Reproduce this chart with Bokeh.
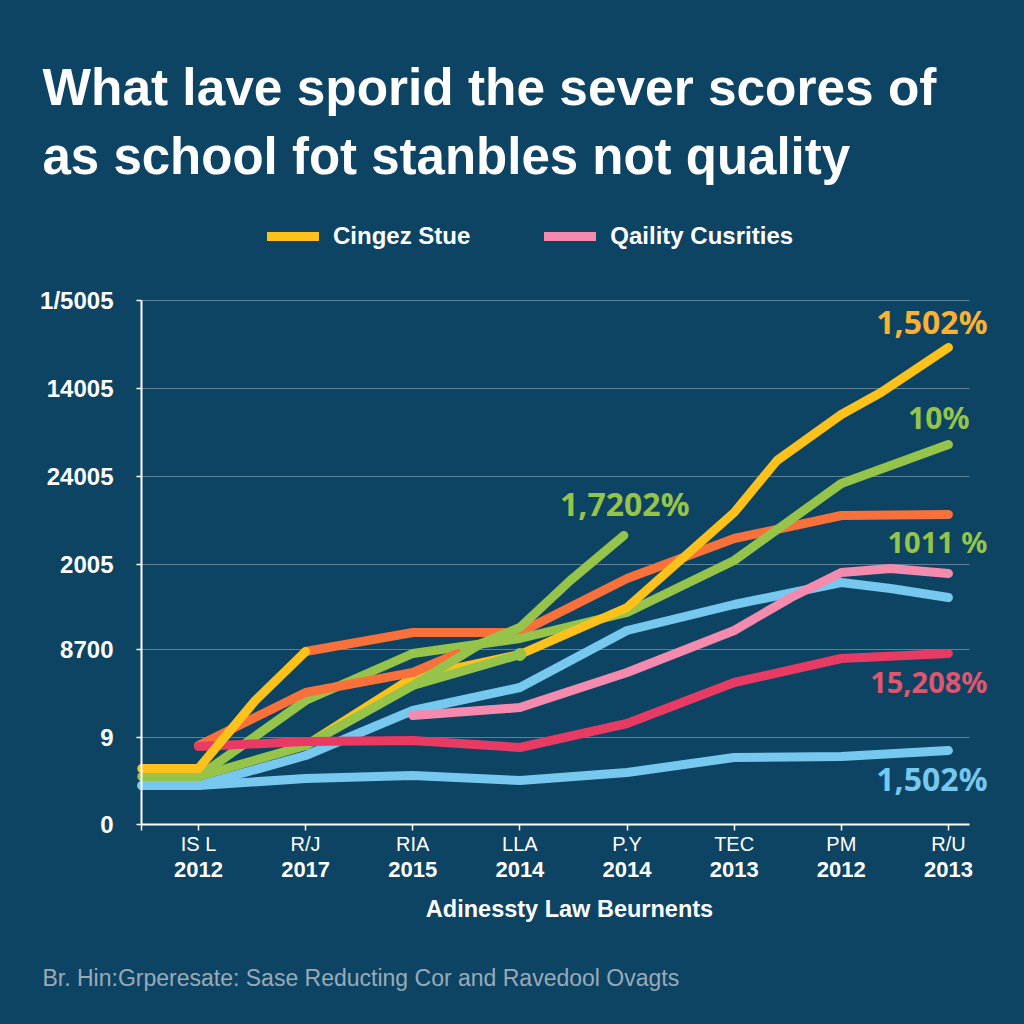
from bokeh.plotting import figure
from bokeh.embed import file_html
from bokeh.resources import INLINE
from bokeh.models import Label, Legend, LegendItem, LinearAxis, FixedTicker

BG = "#0e4463"
title_lines = ["What lave sporid the sever scores of", "as school fot stanbles not quality"]
legend_names = ["Cingez Stue", "Qaility Cusrities"]
x_codes = ["IS L", "R/J", "RIA", "LLA", "P.Y", "TEC", "PM", "R/U"]
x_years = ["2012", "2017", "2015", "2014", "2014", "2013", "2012", "2013"]
y_ticks = [0, 87, 175, 260, 348, 436, 524]
y_labels = ["0", "9", "8700", "2005", "24005", "14005", "1/5005"]
x_name = "Adinessty Law Beurnents"
footer = "Br. Hin:Grperesate: Sase Reducting Cor and Ravedool Ovagts"

yellow1_x = [-0.53, 0, 0.53, 1]
yellow1_y = [56, 56, 124, 173]
yellow2_x = [1, 2, 3, 4, 5, 5.4, 6, 6.37, 7]
yellow2_y = [79, 147, 170, 217, 312, 364, 410, 432, 477]
orange1_x = [1, 2, 3, 4, 5, 6, 7]
orange1_y = [173, 192, 192, 246, 286, 309, 310]
orange2_x = [0, 1, 2, 2.42]
orange2_y = [79, 132, 152, 171]
green1_x = [0, 1, 2, 3, 4, 5, 6, 7]
green1_y = [48, 124, 171, 186, 212, 264, 341, 380]
green2_x = [-0.53, 0, 1, 2, 3]
green2_y = [48, 48, 79, 139, 170]
green3_x = [2, 2.64, 3, 3.47, 3.97]
green3_y = [139, 181, 197, 244, 289]
blue1_x = [-0.53, 0, 1, 2, 3, 4, 5, 6, 6.46, 7]
blue1_y = [39, 39, 69, 114, 137, 194, 220, 242, 236, 227]
blue2_x = [-0.53, 0, 1, 2, 3, 4, 5, 6, 7]
blue2_y = [39, 39, 46, 49, 44, 52, 67, 68, 74]
pink_x = [2, 3, 4, 5, 5.53, 6, 6.46, 7]
pink_y = [109, 117, 152, 194, 227, 252, 256, 251]
red_x = [0, 1, 2, 3, 4, 5, 6, 7]
red_y = [78, 83, 84, 77, 101, 142, 166, 171]

YELLOW, ORANGE, GREEN, BLUE, PINK, RED = "#fcc21b", "#f8703a", "#96c44a", "#76c8ee", "#f48aad", "#e93a63"
X0, X1 = -0.532, 7.196

p = figure(width=1024, height=1024, output_backend="svg", toolbar_location=None,
           x_range=(-1.848, 7.710), y_range=(-200, 824),
           min_border_left=0, min_border_right=0, min_border_top=0, min_border_bottom=0,
           background_fill_color=BG, border_fill_color=BG, outline_line_color=None,
           x_axis_type=None, y_axis_type=None)

p.segment([X0] * 6, y_ticks[1:], [X1] * 6, y_ticks[1:], line_color="#5d8199", line_width=1)

yaxis = LinearAxis(ticker=FixedTicker(ticks=y_ticks), fixed_location=X0, bounds=(0, 524),
                   major_label_overrides={t: s for t, s in zip(y_ticks, y_labels)})
yaxis.axis_line_color = "white"; yaxis.axis_line_width = 2
yaxis.major_tick_line_color = "white"; yaxis.major_tick_line_width = 1.5
yaxis.major_tick_out = 5; yaxis.major_tick_in = 0
yaxis.minor_tick_line_color = None
yaxis.major_label_standoff = 23
yaxis.major_label_text_color = "white"
yaxis.major_label_text_font = "Liberation Sans"
yaxis.major_label_text_font_style = "bold"
yaxis.major_label_text_font_size = "24px"
p.add_layout(yaxis, "left")

x_ticks = list(range(8))
xaxis = LinearAxis(ticker=FixedTicker(ticks=[X0] + x_ticks), fixed_location=0, bounds=(X0, X1),
                   major_label_overrides={**{X0: ""}, **{t: s for t, s in zip(x_ticks, x_codes)}})
xaxis.axis_line_color = "white"; xaxis.axis_line_width = 2
xaxis.major_tick_line_color = "white"; xaxis.major_tick_line_width = 1.5
xaxis.major_tick_out = 6; xaxis.major_tick_in = 0
xaxis.minor_tick_line_color = None
xaxis.major_label_standoff = 2
xaxis.major_label_text_color = "white"
xaxis.major_label_text_font = "Liberation Sans"
xaxis.major_label_text_font_size = "20px"
p.add_layout(xaxis, "below")

xaxis2 = LinearAxis(ticker=FixedTicker(ticks=x_ticks), fixed_location=0, bounds=(X0, X1),
                    major_label_overrides={t: s for t, s in zip(x_ticks, x_years)})
xaxis2.axis_line_color = None
xaxis2.major_tick_line_color = None
xaxis2.minor_tick_line_color = None
xaxis2.major_tick_out = 0
xaxis2.major_label_standoff = 37
xaxis2.major_label_text_color = "white"
xaxis2.major_label_text_font = "Liberation Sans"
xaxis2.major_label_text_font_style = "bold"
xaxis2.major_label_text_font_size = "22px"
p.add_layout(xaxis2, "below")

def ln(x, y, c):
    return p.line(x, y, line_color=c, line_width=9, line_cap="round", line_join="round")

ln(blue2_x, blue2_y, BLUE)
ln(blue1_x, blue1_y, BLUE)
r_pink = ln(pink_x, pink_y, PINK)
ln(orange1_x, orange1_y, ORANGE)
ln(green1_x, green1_y, GREEN)
ln(yellow2_x, yellow2_y, YELLOW)
ln(orange2_x, orange2_y, ORANGE)
ln(green3_x, green3_y, GREEN)
ln(green2_x, green2_y, GREEN)
p.scatter(green2_x[-1:], green2_y[-1:], size=12, color=GREEN)
ln(red_x, red_y, RED)
r_yellow = ln(yellow1_x, yellow1_y, YELLOW)

legend = Legend(items=[LegendItem(label=legend_names[0], renderers=[r_yellow]),
                       LegendItem(label=legend_names[1], renderers=[r_pink])],
                orientation="horizontal", location=(267, 774),
                background_fill_alpha=0, border_line_alpha=0, margin=0, padding=0,
                glyph_width=52, glyph_height=22, label_standoff=14, spacing=74,
                label_text_color="white", label_text_font="Liberation Sans",
                label_text_font_style="bold", label_text_font_size="24px")
p.add_layout(legend, "center")

def lab(px, py, t, size, color="white", style="bold", font="Liberation Sans", align="left"):
    p.add_layout(Label(x=px, y=1024 - py, x_units="screen", y_units="screen", text=t,
                       text_font=font, text_font_size=size, text_color=color,
                       text_font_style=style, text_align=align, text_baseline="alphabetic"))

lab(42, 86, title_lines[0], "51.4px")
lab(42, 156, title_lines[1], "51px")
lab(569, 908, x_name, "23.5px", align="center")
lab(42, 977, footer, "23px", color="#9aabb8", style="normal")
D = "Noto Sans"
lab(987, 321, "1,502%", "32px", "#f9b233", font=D, align="right")
lab(969, 417, "10%", "30px", GREEN, font=D, align="right")
lab(689, 503, "1,7202%", "32px", GREEN, font=D, align="right")
lab(987, 541, "1011 %", "29px", GREEN, font=D, align="right")
lab(987, 681, "15,208%", "29px", "#e0566f", font=D, align="right")
lab(987, 778, "1,502%", "32px", BLUE, font=D, align="right")

html = file_html(p, INLINE)
html = html.replace("<head>", "<head><style>html,body{background:%s;margin:0;overflow:hidden}</style>" % BG, 1)
open("out.html", "w").write(html)
